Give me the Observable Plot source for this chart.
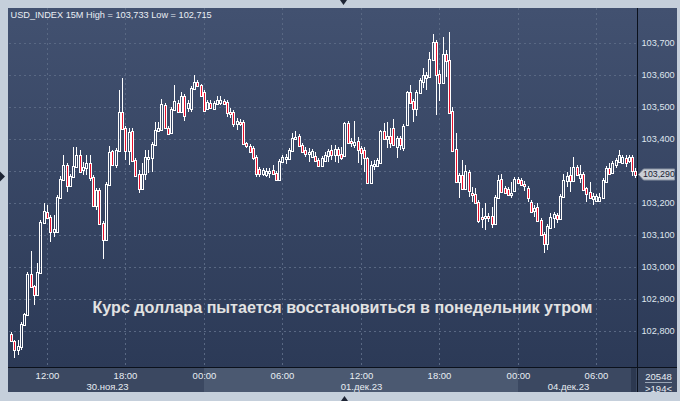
<!DOCTYPE html>
<html>
<head>
<meta charset="utf-8">
<script src="https://cdn.jsdelivr.net/npm/d3@7"></script>
<script src="https://cdn.jsdelivr.net/npm/@observablehq/plot@0.6"></script>
<style>
html, body { margin: 0; padding: 0; background: #c5cfdb; }
#chart svg { display: block; }
</style>
</head>
<body>
<div id="chart"></div>
<script>
// ---- data: USD_INDEX 15-minute candles, 30 Nov – 04 Dec 2023 ----
const open = [
102.790,102.769,102.742,102.752,102.820,102.852,102.977,102.939,102.914,102.983,
103.139,103.171,103.155,103.111,103.111,103.217,103.274,103.317,103.255,103.283,
103.314,103.349,103.305,103.311,103.324,103.280,103.193,103.239,103.136,103.086,
103.258,103.361,103.321,103.364,103.483,103.433,103.364,103.424,103.333,103.289,
103.246,103.292,103.339,103.342,103.383,103.427,103.430,103.505,103.433,103.421,
103.492,103.511,103.486,103.533,103.499,103.496,103.558,103.577,103.567,103.546,
103.496,103.511,103.496,103.511,103.514,103.517,103.514,103.483,103.483,103.449,
103.452,103.452,103.386,103.377,103.371,103.342,103.305,103.292,103.289,103.296,
103.302,103.292,103.274,103.330,103.339,103.339,103.364,103.402,103.408,103.380,
103.364,103.355,103.346,103.346,103.333,103.317,103.333,103.349,103.364,103.352,
103.367,103.352,103.349,103.449,103.392,103.383,103.392,103.371,103.364,103.339,
103.264,103.317,103.317,103.327,103.424,103.402,103.408,103.433,103.377,103.402,
103.374,103.446,103.546,103.517,103.496,103.546,103.580,103.594,103.596,103.649,
103.702,103.602,103.577,103.664,103.646,103.486,103.367,103.267,103.286,103.246,
103.296,103.230,103.227,103.202,103.155,103.155,103.157,103.158,103.136,103.217,
103.274,103.246,103.242,103.227,103.239,103.274,103.271,103.258,103.246,103.202,
103.177,103.186,103.146,103.102,103.074,103.124,103.155,103.161,103.152,103.221,
103.271,103.286,103.271,103.311,103.280,103.289,103.246,103.233,103.214,103.208,
103.208,103.217,103.267,103.308,103.296,103.321,103.330,103.327,103.339,103.333,
103.342,103.299
];
const high = [
102.796,102.771,102.771,102.827,102.855,102.983,103.049,102.942,103.011,103.146,
103.199,103.193,103.161,103.161,103.224,103.283,103.349,103.324,103.289,103.374,
103.374,103.364,103.327,103.349,103.349,103.286,103.246,103.246,103.142,103.264,
103.377,103.364,103.371,103.552,103.589,103.439,103.433,103.433,103.339,103.302,
103.324,103.364,103.364,103.389,103.452,103.452,103.524,103.511,103.439,103.499,
103.567,103.521,103.546,103.539,103.521,103.564,103.599,103.583,103.570,103.552,
103.521,103.521,103.517,103.533,103.533,103.524,103.521,103.496,103.489,103.464,
103.461,103.458,103.389,103.383,103.377,103.349,103.311,103.308,103.308,103.308,
103.317,103.299,103.336,103.349,103.352,103.371,103.417,103.424,103.414,103.386,
103.374,103.371,103.367,103.358,103.339,103.346,103.358,103.367,103.380,103.380,
103.374,103.374,103.452,103.455,103.402,103.455,103.405,103.377,103.374,103.342,
103.330,103.333,103.339,103.427,103.449,103.452,103.433,103.461,103.408,103.408,
103.446,103.549,103.567,103.524,103.552,103.589,103.621,103.608,103.671,103.728,
103.708,103.614,103.717,103.677,103.733,103.499,103.417,103.292,103.333,103.317,
103.302,103.249,103.246,103.208,103.183,103.199,103.167,103.186,103.224,103.286,
103.289,103.252,103.249,103.264,103.280,103.280,103.277,103.268,103.252,103.208,
103.193,103.199,103.152,103.108,103.133,103.167,103.171,103.167,103.227,103.289,
103.296,103.311,103.342,103.317,103.317,103.296,103.249,103.264,103.230,103.227,
103.230,103.277,103.314,103.324,103.330,103.339,103.364,103.349,103.349,103.349,
103.349,103.308
];
const low = [
102.768,102.715,102.723,102.739,102.817,102.848,102.936,102.880,102.911,102.980,
103.136,103.152,103.077,103.092,103.105,103.214,103.271,103.233,103.249,103.277,
103.311,103.293,103.286,103.286,103.268,103.189,103.177,103.133,103.024,103.083,
103.255,103.314,103.308,103.361,103.427,103.333,103.317,103.327,103.283,103.230,
103.239,103.271,103.292,103.296,103.380,103.424,103.427,103.433,103.414,103.417,
103.489,103.483,103.483,103.455,103.483,103.483,103.555,103.564,103.530,103.486,
103.489,103.492,103.489,103.508,103.505,103.505,103.467,103.464,103.436,103.427,
103.439,103.383,103.371,103.358,103.333,103.280,103.280,103.283,103.280,103.277,
103.286,103.271,103.271,103.327,103.321,103.333,103.361,103.396,103.377,103.358,
103.342,103.327,103.339,103.327,103.311,103.314,103.327,103.327,103.333,103.327,
103.324,103.333,103.346,103.383,103.374,103.371,103.324,103.317,103.296,103.261,
103.261,103.302,103.311,103.324,103.396,103.371,103.371,103.380,103.339,103.364,
103.361,103.442,103.511,103.452,103.471,103.539,103.558,103.552,103.592,103.646,
103.474,103.517,103.574,103.592,103.480,103.358,103.264,103.214,103.239,103.242,
103.217,103.202,103.196,103.136,103.120,103.114,103.139,103.120,103.130,103.214,
103.233,103.227,103.221,103.214,103.236,103.258,103.252,103.236,103.202,103.167,
103.155,103.142,103.099,103.042,103.052,103.120,103.120,103.136,103.149,103.217,
103.249,103.233,103.264,103.283,103.261,103.239,103.202,103.214,103.193,103.202,
103.202,103.214,103.264,103.286,103.289,103.308,103.327,103.324,103.311,103.324,
103.283,103.277
];
const close = [
102.771,102.742,102.752,102.820,102.852,102.977,102.939,102.914,102.983,103.139,
103.174,103.155,103.111,103.117,103.217,103.274,103.317,103.255,103.283,103.314,
103.349,103.299,103.311,103.324,103.280,103.193,103.239,103.136,103.086,103.258,
103.358,103.321,103.364,103.483,103.433,103.364,103.421,103.333,103.286,103.246,
103.289,103.342,103.342,103.383,103.427,103.433,103.508,103.436,103.417,103.492,
103.517,103.486,103.533,103.474,103.511,103.558,103.577,103.567,103.536,103.489,
103.514,103.499,103.511,103.521,103.521,103.511,103.483,103.480,103.449,103.455,
103.450,103.386,103.380,103.361,103.342,103.292,103.292,103.302,103.299,103.299,
103.292,103.274,103.330,103.342,103.342,103.364,103.402,103.405,103.380,103.361,
103.355,103.358,103.361,103.333,103.317,103.339,103.349,103.361,103.352,103.367,
103.352,103.342,103.449,103.389,103.389,103.389,103.367,103.358,103.342,103.264,
103.317,103.321,103.333,103.424,103.402,103.408,103.389,103.383,103.402,103.383,
103.439,103.546,103.514,103.496,103.546,103.583,103.599,103.599,103.649,103.702,
103.602,103.577,103.664,103.646,103.483,103.364,103.267,103.286,103.246,103.299,
103.239,103.227,103.202,103.146,103.152,103.157,103.155,103.136,103.217,103.271,
103.236,103.233,103.227,103.230,103.274,103.264,103.258,103.255,103.217,103.174,
103.183,103.146,103.102,103.074,103.127,103.155,103.164,103.152,103.221,103.271,
103.283,103.271,103.311,103.289,103.289,103.242,103.230,103.217,103.221,103.221,
103.217,103.271,103.308,103.292,103.324,103.333,103.349,103.342,103.327,103.342,
103.302,103.290
];

// axis ticks and labels
const priceTicks = [102.8, 102.9, 103.0, 103.1, 103.2, 103.3, 103.4, 103.5, 103.6, 103.7];
const timeTicks  = [11, 35, 59, 83, 107, 131, 155, 179];            // candle index of each label
const timeLabels = ["12:00", "18:00", "00:00", "06:00", "12:00", "18:00", "00:00", "06:00"];
const dateCenters = [29.2, 107, 170.5];
const dateLabels  = ["30.ноя.23", "01.дек.23", "04.дек.23"];
const highlightDay = [59, 155];                                   // 01 Dec session
const symbolName = "USD_INDEX 15M";
const noteText = "Курс доллара пытается восстановиться в понедельник утром";
const barsInfo = ["20548", ">194<"];

// ---- build ----
const candles = open.map((o, i) => ({i, open: o, high: high[i], low: low[i], close: close[i]}));
const fmtPrice = v => d3.format(".3f")(v).replace(".", ",");
const titleText = `${symbolName} High = ${fmtPrice(d3.max(high))} Low = ${fmtPrice(d3.min(low))}`;
const last = candles[candles.length - 1];
// the last-price tag hides the axis label it covers
const labelTicks = priceTicks.filter(t => Math.abs(t - last.close) > 0.03);

const FONT = "'Liberation Sans', Arial, sans-serif";
const LABEL = "#dfe6ee";

function panels(index, scales, values, dims) {
  const {width, height, marginLeft, marginRight, marginTop, marginBottom} = dims;
  const L = marginLeft - 1, T = marginTop, R = width - marginRight, B = height - marginBottom;
  const outerR = width - 3, axisB = B + 25;
  const g = d3.create("svg:g");
  const grad = g.append("defs").append("linearGradient")
    .attr("id", "bgGrad").attr("gradientUnits", "userSpaceOnUse")
    .attr("x1", 0).attr("y1", T).attr("x2", 0).attr("y2", B);
  grad.append("stop").attr("offset", 0).attr("stop-color", "#425170");
  grad.append("stop").attr("offset", 1).attr("stop-color", "#2c3a57");
  g.append("rect").attr("x", L).attr("y", T).attr("width", outerR - L).attr("height", B - T).attr("fill", "url(#bgGrad)");
  g.append("rect").attr("x", L).attr("y", B).attr("width", outerR - L).attr("height", axisB - B).attr("fill", "#3b4861");
  const hx0 = Math.round(scales.x(highlightDay[0])), hx1 = Math.round(scales.x(highlightDay[1]));
  g.append("rect").attr("x", hx0).attr("y", B + 1).attr("width", hx1 - hx0).attr("height", axisB - B - 1).attr("fill", "#4b5971");
  g.append("rect").attr("x", R - 6).attr("y", B + 1).attr("width", 5).attr("height", axisB - B - 1).attr("fill", "#2c3850");
  g.append("rect").attr("x", R).attr("y", T).attr("width", 1).attr("height", axisB - T).attr("fill", "#0b111c");
  g.append("rect").attr("x", L).attr("y", B).attr("width", outerR - L).attr("height", 1).attr("fill", "#0b111c");
  g.append("rect").attr("x", R + 8).attr("y", B + 15).attr("width", 27).attr("height", 1).attr("fill", "#9aa6b6");
  const tri = "#1d2434";
  g.append("path").attr("d", `M${width / 2},0h7l-3.5,5z`).attr("fill", tri);
  g.append("path").attr("d", `M0,${(T + B) / 2 - 16}v10l5,-5z`).attr("fill", tri);
  g.append("path").attr("d", `M${width / 2 + 1},${height}h7l-3.5,-5z`).attr("fill", tri);
  return g.node();
}

// box of the last-price tag on the right axis
function priceTagBox(index, scales, values, dims) {
  const R = dims.width - dims.marginRight;
  const Y = Math.round(scales.y(last.close)) + 0.5;
  const g = d3.create("svg:g");
  g.append("path")
    .attr("d", `M${R + 1.5},${Y}L${R + 6.5},${Y - 5.5}L${R + 37.5},${Y - 5.5}L${R + 37.5},${Y + 5.5}L${R + 6.5},${Y + 5.5}Z`)
    .attr("fill", "#c9ced6").attr("stroke", "#8a94a3").attr("stroke-width", 1);
  return g.node();
}

const bull = candles.filter(d => d.close >= d.open);
const bear = candles.filter(d => d.close < d.open);
// body geometry: rect marks are not half-pixel offset, rules are; insets align both
const bodyInsets = {insetLeft: -0.5, insetRight: -1.5, insetTop: 0.5, insetBottom: -1.5};

const chart = Plot.plot({
  width: 680,
  height: 401,
  marginLeft: 9,
  marginRight: 43,
  marginTop: 8,
  marginBottom: 34,
  x: {domain: [-0.63, 191.5], round: true, axis: null},
  y: {domain: [102.6866, 103.8084], round: true, axis: null},
  style: {background: "#c5cfdb", fontFamily: FONT, color: LABEL, overflow: "visible"},
  marks: [
    panels,
    Plot.gridY(priceTicks, {stroke: "#596883", strokeOpacity: 1, strokeDasharray: "2,3"}),
    Plot.gridX(timeTicks, {stroke: "#596883", strokeOpacity: 1, strokeDasharray: "2,3"}),
    Plot.ruleX(candles, {x: "i", y1: "high", y2: d => Math.max(d.open, d.close), stroke: "#ffffff"}),
    Plot.ruleX(candles, {x: "i", y1: d => Math.min(d.open, d.close), y2: "low", insetTop: 1, stroke: "#ffffff"}),
    Plot.rect(bull, {x1: "i", x2: "i", y1: "open", y2: "close", ...bodyInsets,
      fill: "none", stroke: "#ffffff", strokeWidth: 1}),
    Plot.rect(bear, {x1: "i", x2: "i", y1: "open", y2: "close", ...bodyInsets,
      fill: "#e8102c", stroke: "#ffffff", strokeWidth: 1}),
    Plot.axisY(labelTicks, {anchor: "right", tickSize: 0, tickPadding: 4, tickFormat: fmtPrice,
      fontSize: 9.2, color: LABEL, label: null}),
    Plot.axisX(timeTicks, {anchor: "bottom", tickSize: 0, tickPadding: 5,
      tickFormat: d => timeLabels[timeTicks.indexOf(d)], fontSize: 9.5, color: "#e8edf3", label: null}),
    Plot.text(dateCenters, {x: d => d, text: (d, i) => dateLabels[i], frameAnchor: "bottom",
      lineAnchor: "top", dy: 15.5, fontSize: 9.5, fill: "#e8edf3"}),
    Plot.text([titleText], {text: d => d, frameAnchor: "top-left", textAnchor: "start",
      lineAnchor: "top", dx: 1, dy: 3, fontSize: 9.2, fill: "#e9eef4"}),
    Plot.text([noteText], {text: d => d, frameAnchor: "middle", dx: 19, dy: 120,
      fontSize: 16.1, fontWeight: "bold", fill: "#e2e2e2"}),
    Plot.text([barsInfo[0]], {text: d => d, frameAnchor: "bottom-right", textAnchor: "middle",
      lineAnchor: "middle", dx: 21, dy: 9, fontSize: 9.5, fill: "#e8edf3"}),
    Plot.text([barsInfo[1]], {text: d => d, frameAnchor: "bottom-right", textAnchor: "middle",
      lineAnchor: "middle", dx: 21, dy: 21.5, fontSize: 9.5, fill: "#e8edf3"}),
    priceTagBox,
    Plot.text([last], {y: "close", text: d => fmtPrice(d.close), frameAnchor: "right",
      textAnchor: "start", lineAnchor: "middle", dx: 5.5, fontSize: 8.8, fill: "#1a2233"})
  ]
});
document.getElementById("chart").append(chart);
</script>
</body>
</html>
